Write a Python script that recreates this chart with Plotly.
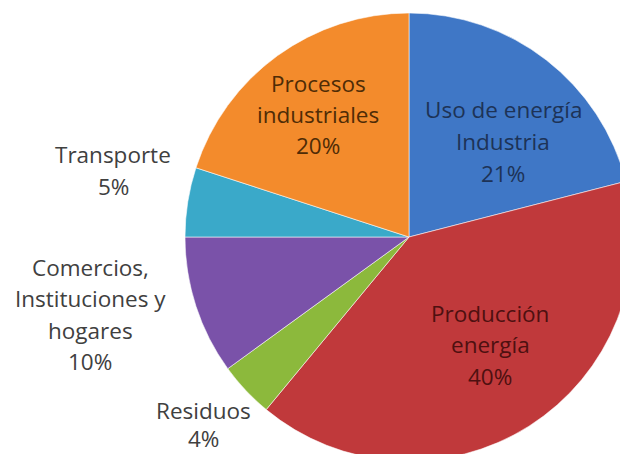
import plotly.graph_objects as go

# ---- data ----
categories = [
    "Uso de energía Industria",
    "Producción energía",
    "Residuos",
    "Comercios, Instituciones y hogares",
    "Transporte",
    "Procesos industriales",
]
label_lines = [
    ["Uso de energía", "Industria"],
    ["Producción", "energía"],
    ["Residuos"],
    ["Comercios,", "Instituciones y", "hogares"],
    ["Transporte"],
    ["Procesos", "industriales"],
]
values = [21, 40, 4, 10, 5, 20]

# ---- styles ----
slice_colors = ["#3f77c6", "#c0393b", "#8cb93c", "#7a52a9", "#3aa9c9", "#f38b2c"]
text_colors = ["#1d3357", "#4e1010", "#404040", "#404040", "#404040", "#4f2c06"]
# page offset (body margin) and label anchor positions in page pixels (first line centre)
OFF = 8
label_pos = [(503, 110), (490, 313), (203, 410), (90, 267), (113, 155), (318, 83)]
line_gaps = [31.5, 31.5, 28, 31.5, 31.5, 31.5]
W, H = 628, 454

# pie: centre (409, 237), radius 224 in page pixels
cx, cy, r = 409 - OFF, 237 - OFF, 224

fig = go.Figure(
    go.Pie(
        labels=categories,
        values=values,
        sort=False,
        direction="clockwise",
        rotation=0,
        textinfo="none",
        hoverinfo="label+percent",
        marker=dict(colors=slice_colors, line=dict(color="rgba(255,255,255,0.55)", width=1)),
        domain=dict(x=[(cx - r) / W, (cx + r) / W], y=[(H - cy - r) / H, (H - cy + r) / H]),
        showlegend=False,
    )
)

annotations = []
for lines, v, (px, py), col, gap in zip(label_lines, values, label_pos, text_colors, line_gaps):
    all_lines = lines + [f"{v}%"]
    for i, t in enumerate(all_lines):
        annotations.append(
            dict(
                text=t,
                x=(px - OFF) / W,
                y=1 - (py - OFF + i * gap) / H,
                xref="paper",
                yref="paper",
                xanchor="center",
                yanchor="middle",
                showarrow=False,
                font=dict(family="Open Sans", size=22.5, color=col),
            )
        )

fig.update_layout(
    width=W,
    height=H,
    margin=dict(l=0, r=0, t=0, b=0),
    paper_bgcolor="white",
    plot_bgcolor="white",
    annotations=annotations,
)

fig.write_html("out.html")
